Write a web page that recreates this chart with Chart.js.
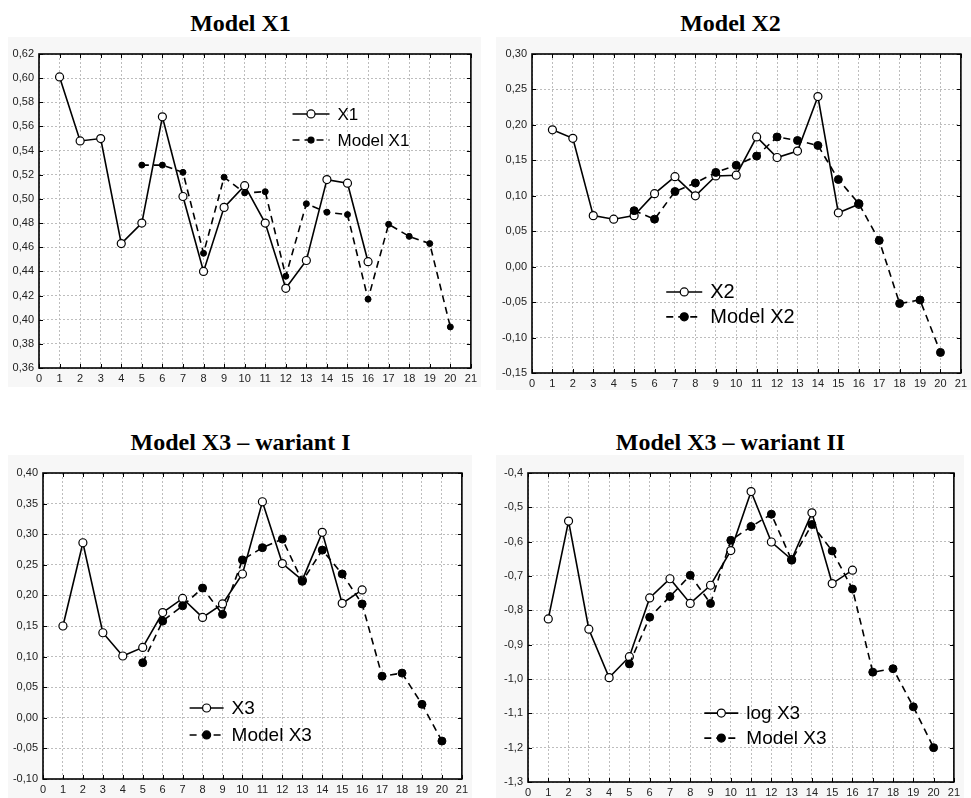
<!DOCTYPE html>
<html>
<head>
<meta charset="utf-8">
<script src="https://cdn.jsdelivr.net/npm/chart.js@4.4.0/dist/chart.umd.min.js"></script>
<style>
  body { margin: 0; background: #fff; width: 971px; height: 798px; position: relative; overflow: hidden; }
  .title { position: absolute; font-family: "Liberation Serif", "Times New Roman", serif; font-weight: bold;
           font-size: 24px; line-height: 24px; text-align: center; white-space: nowrap; color: #000; }
  .box { position: absolute; background: #f7f7f7; }
  .box canvas { display: block; }
</style>
</head>
<body>

<div class="title" style="left:0; top:11px; width:481px;">Model X1</div>
<div class="title" style="left:490px; top:11px; width:481px;">Model X2</div>
<div class="title" style="left:0; top:430px; width:481px;">Model X3 – wariant I</div>
<div class="title" style="left:490px; top:430px; width:481px;">Model X3 – wariant II</div>

<div class="box" style="left:8px; top:37px;"><canvas id="c1" width="473" height="350"></canvas></div>
<div class="box" style="left:496px; top:37px;"><canvas id="c2" width="475" height="353"></canvas></div>
<div class="box" style="left:8px; top:455px;"><canvas id="c3" width="464" height="343"></canvas></div>
<div class="box" style="left:496px; top:455px;"><canvas id="c4" width="468" height="343"></canvas></div>

<script>
// data (periods 1..20)
const periods = [1, 2, 3, 4, 5, 6, 7, 8, 9, 10, 11, 12, 13, 14, 15, 16, 17, 18, 19, 20];
const xTicks = [0, 1, 2, 3, 4, 5, 6, 7, 8, 9, 10, 11, 12, 13, 14, 15, 16, 17, 18, 19, 20, 21];

const x1 = [0.601, 0.548, 0.550, 0.463, 0.480, 0.568, 0.502, 0.440, 0.493, 0.511, 0.480, 0.426, 0.449, 0.516, 0.513, 0.448, null, null, null, null];
const modelX1 = [null, null, null, null, 0.528, 0.528, 0.522, 0.455, 0.518, 0.505, 0.506, 0.436, 0.496, 0.489, 0.487, 0.417, 0.479, 0.469, 0.463, 0.394];
const yTicks1 = [0.36, 0.38, 0.40, 0.42, 0.44, 0.46, 0.48, 0.50, 0.52, 0.54, 0.56, 0.58, 0.60, 0.62];

const x2 = [0.193, 0.181, 0.072, 0.067, 0.072, 0.103, 0.127, 0.100, 0.128, 0.129, 0.183, 0.154, 0.163, 0.240, 0.076, 0.088, null, null, null, null];
const modelX2 = [null, null, null, null, 0.079, 0.067, 0.106, 0.118, 0.133, 0.143, 0.156, 0.183, 0.178, 0.171, 0.123, 0.089, 0.037, -0.052, -0.047, -0.121];
const yTicks2 = [-0.15, -0.10, -0.05, 0, 0.05, 0.10, 0.15, 0.20, 0.25, 0.30];

const x3 = [0.150, 0.286, 0.139, 0.101, 0.115, 0.172, 0.195, 0.164, 0.186, 0.235, 0.353, 0.252, 0.225, 0.303, 0.187, 0.209, null, null, null, null];
const modelX3 = [null, null, null, null, 0.090, 0.158, 0.183, 0.212, 0.169, 0.258, 0.278, 0.292, 0.223, 0.274, 0.235, 0.186, 0.068, 0.073, 0.022, -0.038];
const yTicks3 = [-0.10, -0.05, 0, 0.05, 0.10, 0.15, 0.20, 0.25, 0.30, 0.35, 0.40];

const logX3 = [-0.825, -0.540, -0.855, -0.996, -0.935, -0.764, -0.708, -0.780, -0.727, -0.626, -0.454, -0.601, -0.652, -0.516, -0.722, -0.683, null, null, null, null];
const modelLogX3 = [null, null, null, null, -0.956, -0.820, -0.760, -0.698, -0.780, -0.596, -0.556, -0.520, -0.654, -0.550, -0.627, -0.738, -0.980, -0.970, -1.081, -1.200];
const yTicks4 = [-1.3, -1.2, -1.1, -1.0, -0.9, -0.8, -0.7, -0.6, -0.5, -0.4];

const TICK_FONT = { family: '"Liberation Sans", Arial, sans-serif', size: 11 };
const LEGEND_FAMILY = '"Liberation Sans", Arial, sans-serif';

function toPoints(values) {
  return values.map((v, i) => ({ x: periods[i], y: v }));
}

// white plot area, black frame, inward tick marks, custom legend
function framePlugin(cfg) {
  return {
    id: 'frame' + cfg.id,
    beforeDraw(chart) {
      const a = chart.chartArea, ctx = chart.ctx;
      ctx.save();
      ctx.fillStyle = '#fff';
      ctx.fillRect(a.left, a.top, a.right - a.left, a.bottom - a.top);
      ctx.restore();
    },
    afterDraw(chart) {
      const a = chart.chartArea, ctx = chart.ctx;
      const sx = chart.scales.x, sy = chart.scales.y;
      ctx.save();
      ctx.strokeStyle = '#000';
      ctx.lineWidth = 1;
      ctx.beginPath();
      xTicks.forEach(t => {
        const px = Math.round(sx.getPixelForValue(t)) + 0.5;
        ctx.moveTo(px, a.bottom); ctx.lineTo(px, a.bottom - 4);
        ctx.moveTo(px, a.top); ctx.lineTo(px, a.top + 4);
      });
      cfg.yTicks.forEach(t => {
        const py = Math.round(sy.getPixelForValue(t)) + 0.5;
        ctx.moveTo(a.left, py); ctx.lineTo(a.left + 4, py);
        ctx.moveTo(a.right, py); ctx.lineTo(a.right - 4, py);
      });
      ctx.stroke();
      ctx.lineWidth = 1.6;
      ctx.strokeRect(a.left, a.top, a.right - a.left, a.bottom - a.top);

      // legend
      const lg = cfg.legend;
      const lx = a.left + lg.x * (a.right - a.left);
      const items = [
        { y: a.top + lg.y1 * (a.bottom - a.top), dash: [], fill: '#fff', r: cfg.r1, text: cfg.labels[0] },
        { y: a.top + lg.y2 * (a.bottom - a.top), dash: [7, 5], fill: '#000', r: cfg.r2, text: cfg.labels[1] }
      ];
      items.forEach(it => {
        ctx.setLineDash(it.dash);
        ctx.lineWidth = 1.6;
        ctx.beginPath();
        ctx.moveTo(lx, it.y); ctx.lineTo(lx + lg.len, it.y);
        ctx.stroke();
        ctx.setLineDash([]);
        ctx.beginPath();
        ctx.arc(lx + lg.len / 2, it.y, it.r, 0, Math.PI * 2);
        ctx.fillStyle = it.fill;
        ctx.fill();
        ctx.lineWidth = 1.2;
        ctx.stroke();
        ctx.fillStyle = '#000';
        ctx.font = lg.size + 'px ' + LEGEND_FAMILY;
        ctx.textBaseline = 'middle';
        ctx.textAlign = 'left';
        ctx.fillText(it.text, lx + lg.len + 8, it.y + 1);
      });
      ctx.restore();
    }
  };
}

function makeChart(cfg) {
  const canvas = document.getElementById(cfg.id);
  new Chart(canvas, {
    type: 'line',
    data: {
      datasets: [
        {
          label: cfg.labels[1],
          data: toPoints(cfg.model),
          borderColor: '#000',
          borderWidth: 1.6,
          borderDash: [7, 5],
          pointRadius: cfg.r2,
          pointBackgroundColor: '#000',
          pointBorderColor: '#000',
          pointBorderWidth: 1,
          tension: 0,
          spanGaps: false
        },
        {
          label: cfg.labels[0],
          data: toPoints(cfg.actual),
          borderColor: '#000',
          borderWidth: 1.6,
          pointRadius: cfg.r1,
          pointBackgroundColor: '#fff',
          pointBorderColor: '#000',
          pointBorderWidth: 1.2,
          tension: 0,
          spanGaps: false
        }
      ]
    },
    options: {
      responsive: false,
      animation: false,
      layout: { padding: { top: cfg.padTop, right: cfg.padRight, left: 0, bottom: 0 } },
      plugins: { legend: { display: false }, tooltip: { enabled: false } },
      scales: {
        x: {
          type: 'linear', min: 0, max: 21,
          afterBuildTicks: s => { s.ticks = xTicks.map(v => ({ value: v })); },
          afterFit: s => { s.height = cfg.xHeight; },
          ticks: { color: '#222', font: TICK_FONT, padding: 4, maxRotation: 0, autoSkip: false },
          grid: { color: '#bdbdbd', lineWidth: 1, drawTicks: false },
          border: { display: false, dash: [2, 2] }
        },
        y: {
          type: 'linear', min: cfg.yTicks[0], max: cfg.yTicks[cfg.yTicks.length - 1],
          afterBuildTicks: s => { s.ticks = cfg.yTicks.map(v => ({ value: v })); },
          afterFit: s => { s.width = cfg.yWidth; },
          ticks: {
            color: '#222', font: TICK_FONT, padding: 5, autoSkip: false,
            callback: v => v.toFixed(cfg.decimals).replace('.', ',')
          },
          grid: { color: '#bdbdbd', lineWidth: 1, drawTicks: false },
          border: { display: false, dash: [2, 2] }
        }
      }
    },
    plugins: [framePlugin(cfg)]
  });
}

makeChart({
  id: 'c1', actual: x1, model: modelX1, yTicks: yTicks1, decimals: 2,
  labels: ['X1', 'Model X1'], r1: 4, r2: 3,
  padTop: 17, padRight: 9, yWidth: 31, xHeight: 19,
  legend: { x: 0.587, y1: 0.191, y2: 0.274, len: 37, size: 17 }
});
makeChart({
  id: 'c2', actual: x2, model: modelX2, yTicks: yTicks2, decimals: 2,
  labels: ['X2', 'Model X2'], r1: 4, r2: 4,
  padTop: 17, padRight: 5, yWidth: 36, xHeight: 17,
  legend: { x: 0.313, y1: 0.746, y2: 0.824, len: 36, size: 20 }
});
makeChart({
  id: 'c3', actual: x3, model: modelX3, yTicks: yTicks3, decimals: 2,
  labels: ['X3', 'Model X3'], r1: 4, r2: 4,
  padTop: 18, padRight: 9, yWidth: 35, xHeight: 19,
  legend: { x: 0.35, y1: 0.768, y2: 0.856, len: 34, size: 19 }
});
makeChart({
  id: 'c4', actual: logX3, model: modelLogX3, yTicks: yTicks4, decimals: 1,
  labels: ['log X3', 'Model X3'], r1: 4, r2: 4,
  padTop: 18, padRight: 8, yWidth: 32, xHeight: 16,
  legend: { x: 0.414, y1: 0.777, y2: 0.858, len: 34, size: 19 }
});
</script>
</body>
</html>
